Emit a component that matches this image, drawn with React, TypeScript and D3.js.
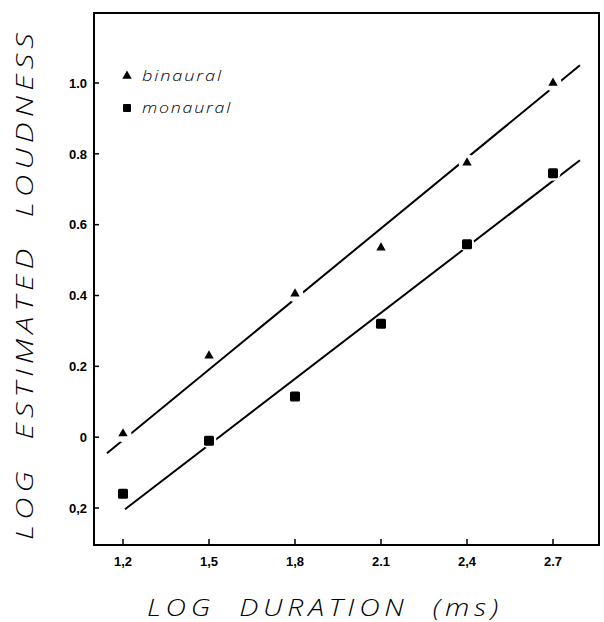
import React from "react";
import * as d3 from "d3";

// Log duration (ms) on the x axis
const duration = [1.2, 1.5, 1.8, 2.1, 2.4, 2.7];
// Log estimated loudness per condition
const binaural = [0.01, 0.23, 0.405, 0.535, 0.775, 1.0];
const monaural = [-0.16, -0.01, 0.115, 0.32, 0.545, 0.745];

// Fitted lines: [intercept, slope] and the x range they are drawn over
const binauralFit = [-0.805, 0.664];
const binauralFitRange = [1.144, 2.794];
const monauralFit = [-0.953, 0.621];
const monauralFitRange = [1.207, 2.794];

const xTickValues = [1.2, 1.5, 1.8, 2.1, 2.4, 2.7];
const xTickLabels = ["1,2", "1,5", "1,8", "2.1", "2,4", "2.7"];
const yTickValues = [1.0, 0.8, 0.6, 0.4, 0.2, 0, -0.2];
const yTickLabels = ["1.0", "0.8", "0.6", "0.4", "0.2", "0", "0,2"];

const W = 604;
const H = 622;
const frame = { left: 94, right: 599, top: 13, bottom: 545 };

const x = d3.scaleLinear().domain([1.2, 2.7]).range([123, 553]);
const y = d3.scaleLinear().domain([-0.2, 1.0]).range([508, 83]);

const triangle = d3.symbol().type(d3.symbolTriangle).size(38)();

const titleFont = "'Open Sans', 'DejaVu Sans', sans-serif";
const tickFont = "'Liberation Sans', Arial, sans-serif";

function fitLine(fit: number[], range: number[]) {
  const line = d3
    .line<number>()
    .x((d) => x(d))
    .y((d) => y(fit[0] + fit[1] * d));
  return line(range) as string;
}

export default function App() {
  const halo = 8.5;
  return (
    <svg
      width={W}
      height={H}
      style={{ position: "absolute", left: 0, top: 0, background: "#fff" }}
    >
      <rect width={W} height={H} fill="#fff" />

      {/* fitted lines */}
      <path d={fitLine(binauralFit, binauralFitRange)} stroke="#000" strokeWidth={2} fill="none" />
      <path d={fitLine(monauralFit, monauralFitRange)} stroke="#000" strokeWidth={2} fill="none" />

      {/* white clearing around markers so lines break at the points */}
      {duration.map((d, i) => (
        <circle key={"hb" + i} cx={x(d)} cy={y(binaural[i])} r={halo} fill="#fff" />
      ))}
      {duration.map((d, i) => (
        <circle key={"hm" + i} cx={x(d)} cy={y(monaural[i])} r={halo - 1} fill="#fff" />
      ))}

      {/* markers */}
      {duration.map((d, i) => (
        <path
          key={"b" + i}
          d={triangle}
          transform={`translate(${x(d)},${y(binaural[i])})`}
          fill="#000"
        />
      ))}
      {duration.map((d, i) => (
        <rect
          key={"m" + i}
          x={x(d) - 5}
          y={y(monaural[i]) - 5}
          width={10}
          height={10}
          rx={1.5}
          fill="#000"
        />
      ))}

      {/* frame */}
      <rect
        x={frame.left}
        y={frame.top}
        width={frame.right - frame.left}
        height={frame.bottom - frame.top}
        fill="none"
        stroke="#000"
        strokeWidth={2}
      />

      {/* y ticks */}
      {yTickValues.map((v, i) => (
        <g key={"yt" + i}>
          <line x1={frame.left} x2={frame.left + 5} y1={y(v)} y2={y(v)} stroke="#000" strokeWidth={1.5} />
          <text
            x={87}
            y={y(v)}
            dy="0.36em"
            textAnchor="end"
            fontFamily={tickFont}
            fontWeight="bold"
            fontSize={13}
          >
            {yTickLabels[i]}
          </text>
        </g>
      ))}

      {/* x ticks */}
      {xTickValues.map((v, i) => (
        <g key={"xt" + i}>
          <line x1={x(v)} x2={x(v)} y1={frame.bottom} y2={frame.bottom - 6} stroke="#000" strokeWidth={1.5} />
          <text
            x={x(v)}
            y={566}
            textAnchor="middle"
            fontFamily={tickFont}
            fontWeight="bold"
            fontSize={13}
          >
            {xTickLabels[i]}
          </text>
        </g>
      ))}

      {/* legend */}
      <path d={triangle} transform={`translate(127,76)`} fill="#000" />
      <text
        x={142}
        y={81}
        fontFamily={titleFont}
        fontStyle="italic"
        fontWeight={300}
        fontSize={15}
        letterSpacing={1.5}
        textLength={81}
        lengthAdjust="spacingAndGlyphs"
      >
        binaural
      </text>
      <rect x={123} y={104} width={8} height={8} rx={1} fill="#000" />
      <text
        x={142}
        y={113}
        fontFamily={titleFont}
        fontStyle="italic"
        fontWeight={300}
        fontSize={15}
        letterSpacing={1.5}
        textLength={90}
        lengthAdjust="spacingAndGlyphs"
      >
        monaural
      </text>

      {/* axis titles */}
      <text
        x={147}
        y={616}
        fontFamily={titleFont}
        fontStyle="italic"
        fontWeight={300}
        fontSize={24}
        letterSpacing={4}
        textLength={356}
        lengthAdjust="spacingAndGlyphs"
        style={{ whiteSpace: "pre" }}
      >
        {"LOG  DURATION  (ms)"}
      </text>
      <text
        transform={`translate(33,284) rotate(-90)`}
        textAnchor="middle"
        fontFamily={titleFont}
        fontStyle="italic"
        fontWeight={300}
        fontSize={24}
        letterSpacing={4}
        textLength={512}
        lengthAdjust="spacingAndGlyphs"
        style={{ whiteSpace: "pre" }}
      >
        {"LOG  ESTIMATED  LOUDNESS"}
      </text>
    </svg>
  );
}
